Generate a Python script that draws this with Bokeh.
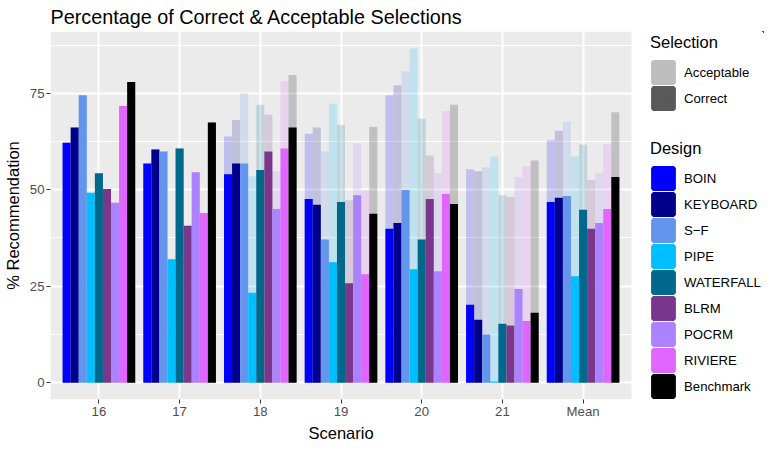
from bokeh.plotting import figure
from bokeh.models import (Range1d, FixedTicker, Legend, LegendItem, ColumnDataSource,
                          BoxAnnotation, Title)
from bokeh.transform import dodge
from bokeh.embed import file_html
from bokeh.resources import INLINE

scenarios = ["16", "17", "18", "19", "20", "21", "Mean"]
designs = ["BOIN", "KEYBOARD", "S\u2212F", "PIPE", "WATERFALL", "BLRM", "POCRM", "RIVIERE", "Benchmark"]
colors = ["#0000FF", "#00008B", "#6495ED", "#00BFFF", "#00688B", "#7A378B", "#AB82FF", "#E066FF", "#000000"]
selections = ["Acceptable", "Correct"]
selection_colors = ["#BEBEBE", "#595959"]

BOIN_correct = [62.2, 56.8, 54.0, 47.6, 39.9, 20.2, 46.8]
BOIN_accept = [62.2, 56.8, 63.8, 64.5, 74.5, 55.3, 62.8]
KEYBOARD_correct = [66.1, 60.4, 56.8, 46.1, 41.4, 16.3, 47.9]
KEYBOARD_accept = [66.1, 60.4, 68.1, 66.1, 77.1, 54.8, 65.3]
SF_correct = [74.5, 59.9, 56.8, 37.1, 49.9, 12.5, 48.4]
SF_accept = [74.5, 59.9, 75.0, 59.9, 80.7, 55.8, 67.6]
PIPE_correct = [49.2, 32.0, 23.3, 31.2, 29.4, 0.3, 27.6]
PIPE_accept = [49.2, 32.0, 53.5, 72.3, 86.6, 58.6, 58.6]
WATERFALL_correct = [54.3, 60.7, 55.1, 46.8, 37.1, 15.3, 44.8]
WATERFALL_accept = [54.3, 60.7, 72.0, 66.8, 68.4, 48.6, 61.7]
BLRM_correct = [50.2, 40.7, 59.9, 25.8, 47.6, 14.8, 39.9]
BLRM_accept = [50.2, 40.7, 69.4, 47.3, 58.9, 48.1, 52.5]
POCRM_correct = [46.6, 54.5, 45.0, 48.6, 28.9, 24.3, 41.4]
POCRM_accept = [46.6, 54.5, 54.8, 62.0, 54.3, 53.3, 54.3]
RIVIERE_correct = [71.7, 44.0, 60.7, 28.1, 48.9, 16.0, 45.0]
RIVIERE_accept = [71.7, 44.0, 78.1, 49.9, 70.4, 56.1, 61.7]
Benchmark_correct = [77.9, 67.4, 66.1, 43.8, 46.3, 18.1, 53.3]
Benchmark_accept = [77.9, 67.4, 79.7, 66.3, 72.0, 57.6, 70.1]

y_ticks = [0, 25, 50, 75]
y_minor = [12.5, 37.5, 62.5, 87.5]

correct_lists = [BOIN_correct, KEYBOARD_correct, SF_correct, PIPE_correct, WATERFALL_correct,
                 BLRM_correct, POCRM_correct, RIVIERE_correct, Benchmark_correct]
accept_lists = [BOIN_accept, KEYBOARD_accept, SF_accept, PIPE_accept, WATERFALL_accept,
                BLRM_accept, POCRM_accept, RIVIERE_accept, Benchmark_accept]

FONT = "Liberation Sans"
PANEL_W = 581          # width of the grey plotting panel in px
FRAME_W = 714          # panel + legend area
FRAME_H = 368

# category positions (1..n) on a numeric axis, ggplot-style 0.6 expansion
xpos = list(range(1, len(scenarios) + 1))
x_lo = 1 - 0.6
x_hi = len(scenarios) + 0.6
units_per_px = (x_hi - x_lo) / PANEL_W
y_lo, y_hi = -4.35, 91.0

p = figure(frame_width=FRAME_W, frame_height=FRAME_H,
           x_range=Range1d(x_lo, x_lo + FRAME_W * units_per_px), y_range=Range1d(y_lo, y_hi),
           output_backend="svg", toolbar_location=None,
           title="Percentage of Correct & Acceptable Selections",
           min_border_left=0, min_border_right=0, min_border_top=0, min_border_bottom=0)

p.background_fill_color = "white"
p.border_fill_color = "white"
p.outline_line_color = None

# grey panel behind the bars only
p.add_layout(BoxAnnotation(left=x_lo, right=x_hi, bottom=y_lo, top=y_hi,
                           fill_color="#EBEBEB", fill_alpha=1, line_color=None, level="image"))

p.title.text_font = FONT
p.title.text_font_size = "19.8px"
p.title.text_font_style = "normal"
p.title.text_color = "black"
p.title.align = "left"
p.title.standoff = 7

bar_w = 0.1
n = len(designs)
sources = [ColumnDataSource(dict(x=xpos, correct=correct_lists[i], accept=accept_lists[i]))
           for i in range(n)]

for i in range(n):
    off = -0.4 + bar_w * i
    p.vbar(x=dodge("x", off), top="accept", bottom=0, width=bar_w,
           source=sources[i], fill_color=colors[i], fill_alpha=0.18, line_color=None)

for i in range(n):
    off = -0.4 + bar_w * i
    p.vbar(x=dodge("x", off), top="correct", bottom=0, width=bar_w,
           source=sources[i], fill_color=colors[i], line_color=None)

# legend-only renderers (their single bar sits far outside the visible ranges)
far_x = [1000]
sel_renderers = [p.vbar(x=far_x, top=[1000], bottom=[990], width=0.1, fill_color=c, line_color=c, line_width=4)
                 for c in selection_colors]
des_renderers = [p.vbar(x=far_x, top=[1000], bottom=[990], width=0.1, fill_color=c, line_color=c, line_width=4)
                 for c in colors]

# grid
p.xgrid.grid_line_color = "white"
p.xgrid.grid_line_width = 2
p.ygrid.grid_line_color = "white"
p.ygrid.grid_line_width = 2
p.ygrid.minor_grid_line_color = "white"
p.ygrid.minor_grid_line_width = 1

p.xaxis.ticker = FixedTicker(ticks=xpos)
p.xaxis.major_label_overrides = {x: s for x, s in zip(xpos, scenarios)}
p.yaxis.ticker = FixedTicker(ticks=y_ticks, minor_ticks=y_minor)

for ax in (p.xaxis[0], p.yaxis[0]):
    ax.axis_line_color = None
    ax.major_tick_line_color = "#333333"
    ax.major_tick_line_width = 1
    ax.major_tick_out = 4
    ax.major_tick_in = 0
    ax.minor_tick_line_color = None
    ax.minor_tick_out = 0
    ax.minor_tick_in = 0
    ax.major_label_text_font = FONT
    ax.major_label_text_font_size = "13.2px"
    ax.major_label_text_color = "#4D4D4D"
    ax.axis_label_text_font = FONT
    ax.axis_label_text_font_size = "16.5px"
    ax.axis_label_text_font_style = "normal"
    ax.axis_label_text_color = "black"
    ax.major_label_standoff = 2

p.xaxis.major_label_standoff = 0
p.yaxis.axis_label = "% Recommendation"
p.yaxis.axis_label_standoff = 5

# x-axis title centred under the grey panel (not under the legend area)
xlab = "Scenario"
xlab_size = 16.5
xlab_width = 3.946 * xlab_size
p.add_layout(Title(text=xlab, align="left", offset=PANEL_W / 2 - xlab_width / 2,
                   text_font=FONT, text_font_size=f"{xlab_size}px", text_font_style="normal",
                   text_color="black", standoff=0), "below")


def make_legend(title, labels, renderers, loc):
    items = [LegendItem(label=l, renderers=[r]) for l, r in zip(labels, renderers)]
    return Legend(items=items, title=title, location=loc, orientation="vertical",
                  glyph_width=26, glyph_height=26, spacing=0, padding=0, margin=0,
                  label_standoff=8, title_standoff=7,
                  background_fill_alpha=0, border_line_color=None,
                  label_text_font=FONT, label_text_font_size="13.2px", label_text_color="black",
                  title_text_font=FONT, title_text_font_size="16.5px", title_text_font_style="normal",
                  title_text_color="black", label_height=20)


LEG_X = PANEL_W + 19
p.add_layout(make_legend("Selection", selections, sel_renderers, (LEG_X, 288)))
p.add_layout(make_legend("Design", designs, des_renderers, (LEG_X, 0)))

open("out.html", "w").write(file_html(p, INLINE))
